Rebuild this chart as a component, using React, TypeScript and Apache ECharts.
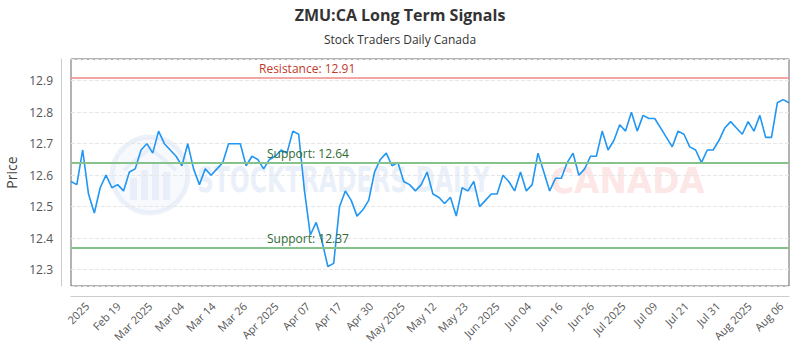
import React, { useEffect, useRef } from 'react';
import * as echarts from 'echarts';

// Closing prices (trading days, Feb–Aug 2025)
const prices: number[] = [
  12.58, 12.57, 12.68, 12.54, 12.48, 12.56, 12.60, 12.56, 12.57, 12.55,
  12.61, 12.62, 12.68, 12.70, 12.67, 12.74, 12.70, 12.68, 12.66, 12.63,
  12.70, 12.62, 12.57, 12.62, 12.60, 12.62, 12.64, 12.70, 12.70, 12.70,
  12.63,
  12.66, 12.65, 12.62, 12.65, 12.66, 12.68, 12.67, 12.74, 12.73, 12.55,
  12.41, 12.45, 12.39, 12.31, 12.32, 12.50, 12.55, 12.52, 12.47, 12.49,
  12.52, 12.61, 12.65, 12.67, 12.63, 12.64, 12.58, 12.57, 12.55, 12.57,
  12.61,
  12.54, 12.53, 12.51, 12.53, 12.47, 12.56, 12.55, 12.58, 12.50, 12.52,
  12.54, 12.54, 12.60, 12.58, 12.55, 12.61, 12.55, 12.57, 12.67, 12.61,
  12.55, 12.59, 12.59, 12.64, 12.67, 12.60, 12.62, 12.66, 12.66, 12.74,
  12.68, 12.71, 12.76, 12.74, 12.80, 12.74, 12.79, 12.78, 12.78, 12.75,
  12.72, 12.69, 12.74, 12.73, 12.69, 12.68, 12.64, 12.68, 12.68, 12.71,
  12.75, 12.77, 12.75, 12.73, 12.77, 12.74, 12.79, 12.72, 12.72, 12.83,
  12.84, 12.83,
];

const tickLabels: string[] = [
  '2025', 'Feb 19', 'Mar 2025', 'Mar 04', 'Mar 14', 'Mar 26', 'Apr 2025',
  'Apr 07', 'Apr 17', 'Apr 30', 'May 2025', 'May 12', 'May 23', 'Jun 2025',
  'Jun 04', 'Jun 16', 'Jun 26', 'Jul 2025', 'Jul 09', 'Jul 21', 'Jul 31',
  'Aug 2025', 'Aug 06',
];

const resistance = 12.91;
const supports: number[] = [12.64, 12.37];

// category names (trading days, weekends skipped)
const categories: string[] = (() => {
  const out: string[] = [];
  const d = new Date(Date.UTC(2025, 1, 10));
  while (out.length < prices.length) {
    const wd = d.getUTCDay();
    if (wd !== 0 && wd !== 6) out.push(d.toISOString().slice(0, 10));
    d.setUTCDate(d.getUTCDate() + 1);
  }
  return out;
})();

const FONT = 'Open Sans';

export default function App() {
  const ref = useRef<HTMLDivElement>(null);
  useEffect(() => {
    document.body.style.margin = '0';
    if (!ref.current) return;
    const chart = echarts.init(ref.current, undefined, { renderer: 'svg' });
    const wmBlue = 'rgba(214,226,243,0.45)';
    const option: any = {
      animation: false,
      backgroundColor: '#ffffff',
      title: {
        text: 'ZMU:CA Long Term Signals',
        subtext: 'Stock Traders Daily Canada',
        left: 'center',
        top: 2,
        itemGap: 10,
        textStyle: { fontFamily: FONT, fontSize: 16, fontWeight: 'bold', color: '#333' },
        subtextStyle: { fontFamily: FONT, fontSize: 12, color: '#333' },
      },
      graphic: [
        {
          type: 'circle',
          shape: { cx: 150, cy: 175, r: 38 },
          style: { fill: 'rgba(230,236,245,0.3)', stroke: wmBlue, lineWidth: 5 },
          z: 0,
        },
        { type: 'rect', shape: { x: 130, y: 178, width: 7, height: 22 }, style: { fill: wmBlue }, z: 0 },
        { type: 'rect', shape: { x: 141, y: 170, width: 7, height: 30 }, style: { fill: wmBlue }, z: 0 },
        { type: 'rect', shape: { x: 152, y: 164, width: 7, height: 36 }, style: { fill: wmBlue }, z: 0 },
        { type: 'rect', shape: { x: 163, y: 172, width: 7, height: 28 }, style: { fill: wmBlue }, z: 0 },
        {
          type: 'polyline',
          shape: { points: [[124, 170], [150, 148], [176, 170]] },
          style: { stroke: wmBlue, lineWidth: 4, fill: 'none' },
          z: 0,
        },
        {
          type: 'text',
          x: 197,
          y: 180,
          scaleX: 0.65,
          style: {
            text: 'STOCKTRADERS DAILY',
            font: 'bold 36px "DejaVu Sans"',
            fill: 'rgba(214,226,243,0.5)',
            verticalAlign: 'middle',
          },
          z: 0,
        },
        {
          type: 'text',
          x: 550,
          y: 180,
          scaleX: 0.91,
          style: {
            text: 'CANADA',
            font: 'bold 36px "DejaVu Sans"',
            fill: 'rgba(252,205,205,0.5)',
            verticalAlign: 'middle',
          },
          z: 0,
        },
      ],
      grid: {
        left: 71,
        right: 11,
        top: 59,
        bottom: 64,
        outerBoundsMode: 'none',
        containLabel: false,
        show: true,
        borderColor: '#666',
        borderWidth: 1,
        backgroundColor: 'transparent',
      },
      xAxis: [
        {
          type: 'category',
          data: categories,
          boundaryGap: false,
          show: false,
        },
        {
          type: 'value',
          min: -0.507,
          max: 22.25,
          minInterval: 1,
          maxInterval: 1,
          splitNumber: 23,
          position: 'bottom',
          offset: 10,
          axisLine: { show: true, onZero: false, lineStyle: { color: '#ccc' } },
          axisTick: { show: false },
          splitLine: { show: false },
          axisLabel: {
            rotate: 45,
            margin: 8,
            fontSize: 11,
            fontFamily: FONT,
            color: '#555',
            showMinLabel: false,
            showMaxLabel: false,
            formatter: (v: number) => {
              const i = Math.round(v);
              return Math.abs(v - i) < 1e-6 && tickLabels[i] ? tickLabels[i] : '';
            },
          },
        },
      ],
      yAxis: {
        type: 'value',
        min: 12.248,
        max: 12.969,
        splitNumber: 7,
        offset: 10,
        name: 'Price',
        nameLocation: 'middle',
        nameGap: 38,
        nameTextStyle: { fontFamily: FONT, fontSize: 14, color: '#444' },
        axisLine: { show: true, onZero: false, lineStyle: { color: '#ccc' } },
        axisTick: { show: false },
        splitLine: { show: true, lineStyle: { color: '#e6e6e6', type: 'dashed' } },
        axisLabel: {
          fontSize: 12,
          fontFamily: FONT,
          color: '#555',
          margin: 8,
          showMinLabel: false,
          showMaxLabel: false,
          formatter: (v: number) => {
            const t = Math.round(v * 10);
            return Math.abs(v * 10 - t) < 1e-6 ? (t / 10).toFixed(1) : '';
          },
        },
      },
      series: [
        {
          type: 'line',
          data: prices,
          xAxisIndex: 0,
          yAxisIndex: 0,
          symbol: 'none',
          lineStyle: { color: '#2196F3', width: 1.6 },
          itemStyle: { color: '#2196F3' },
          z: 3,
          markLine: {
            silent: true,
            symbol: 'none',
            data: [
              {
                yAxis: resistance,
                lineStyle: { color: '#ef8a86', width: 1.5, type: 'solid' },
                label: {
                  formatter: `Resistance: ${resistance}`,
                  position: 'insideStartTop',
                  distance: [188, 3],
                  color: '#c0392b',
                  fontFamily: FONT,
                  fontSize: 12,
                },
              },
              ...supports.map((s) => ({
                yAxis: s,
                lineStyle: { color: '#86c28c', width: 2, type: 'solid' },
                label: {
                  formatter: `Support: ${s}`,
                  position: 'insideStartTop',
                  distance: [196, 3],
                  color: '#2e6b34',
                  fontFamily: FONT,
                  fontSize: 12,
                },
              })),
            ],
          },
        },
      ],
    };
    chart.setOption(option);
    return () => chart.dispose();
  }, []);
  return <div ref={ref} style={{ width: 800, height: 350 }} />;
}
